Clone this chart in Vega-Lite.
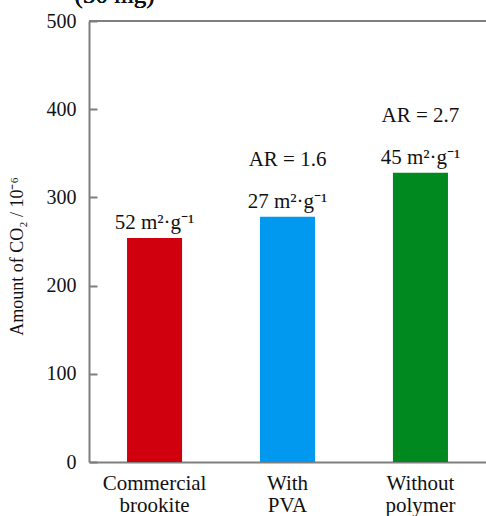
{
  "$schema": "https://vega.github.io/schema/vega-lite/v6.json",
  "width": 397,
  "height": 441,
  "autosize": "none",
  "padding": {"left": 89, "top": 21, "right": 0, "bottom": 54},
  "background": "white",
  "config": {
    "view": {"stroke": null},
    "font": "Liberation Serif",
    "text": {"font": "Liberation Serif", "fontWeight": "normal"},
    "axis": {"domainColor": "#7f7f7f", "domainWidth": 2, "tickColor": "#7f7f7f", "tickWidth": 2, "labelColor": "#111", "titleColor": "#111", "labelFont": "Liberation Serif", "titleFont": "Liberation Serif"}
  },
  "data": {
    "values": [
      {"sample": "Commercial brookite", "co2": 254, "area": "52 m²·g⁻¹", "ar": null},
      {"sample": "With PVA", "co2": 278, "area": "27 m²·g⁻¹", "ar": "AR = 1.6"},
      {"sample": "Without polymer", "co2": 328, "area": "45 m²·g⁻¹", "ar": "AR = 2.7"}
    ]
  },
  "layer": [
    {
      "mark": {"type": "bar"},
      "encoding": {
        "x": {
          "field": "sample", "type": "nominal", "sort": null,
          "scale": {"paddingInner": 0.586, "paddingOuter": 0.286},
          "axis": {
            "title": null, "ticks": false, "labelAngle": 0, "labelFontSize": 21, "labelPadding": 10,
            "labelExpr": "split(datum.label, ' ')", "labelLineHeight": 22, "labelBaseline": "top"
          }
        },
        "y": {
          "field": "co2", "type": "quantitative",
          "scale": {"domain": [0, 500], "nice": false},
          "axis": {
            "title": "Amount of CO₂ / 10⁻⁶", "titleFontSize": 18, "titleFontWeight": "normal", "titlePadding": 20, "titleY": 235,
            "values": [0, 100, 200, 300, 400, 500], "grid": false, "tickSize": -8, "labelFontSize": 20, "labelPadding": 21
          }
        },
        "color": {
          "field": "sample", "type": "nominal", "sort": null, "legend": null,
          "scale": {"range": ["#d0000f", "#0099ef", "#00891e"]}
        }
      }
    },
    {
      "mark": {"type": "text", "baseline": "alphabetic", "dy": -9, "fontSize": 21, "color": "#111", "font": "Liberation Serif"},
      "encoding": {
        "x": {"field": "sample", "type": "nominal", "sort": null},
        "y": {"field": "co2", "type": "quantitative"},
        "text": {"field": "area"}
      }
    },
    {
      "transform": [{"filter": "datum.ar != null"}],
      "mark": {"type": "text", "baseline": "alphabetic", "dy": -51, "fontSize": 21, "color": "#111", "font": "Liberation Serif"},
      "encoding": {
        "x": {"field": "sample", "type": "nominal", "sort": null},
        "y": {"field": "co2", "type": "quantitative"},
        "text": {"field": "ar"}
      }
    },
    {
      "mark": {"type": "text", "baseline": "alphabetic", "dx": -40, "fontSize": 25, "fontWeight": "normal", "color": "#111", "font": "Liberation Serif", "clip": false},
      "encoding": {
        "x": {"datum": "Commercial brookite"},
        "y": {"datum": 520.5},
        "text": {"value": "(30 mg)"}
      }
    },
    {
      "mark": {"type": "rule", "color": "#7f7f7f", "strokeWidth": 2},
      "encoding": {"y": {"datum": 500}}
    }
  ]
}
